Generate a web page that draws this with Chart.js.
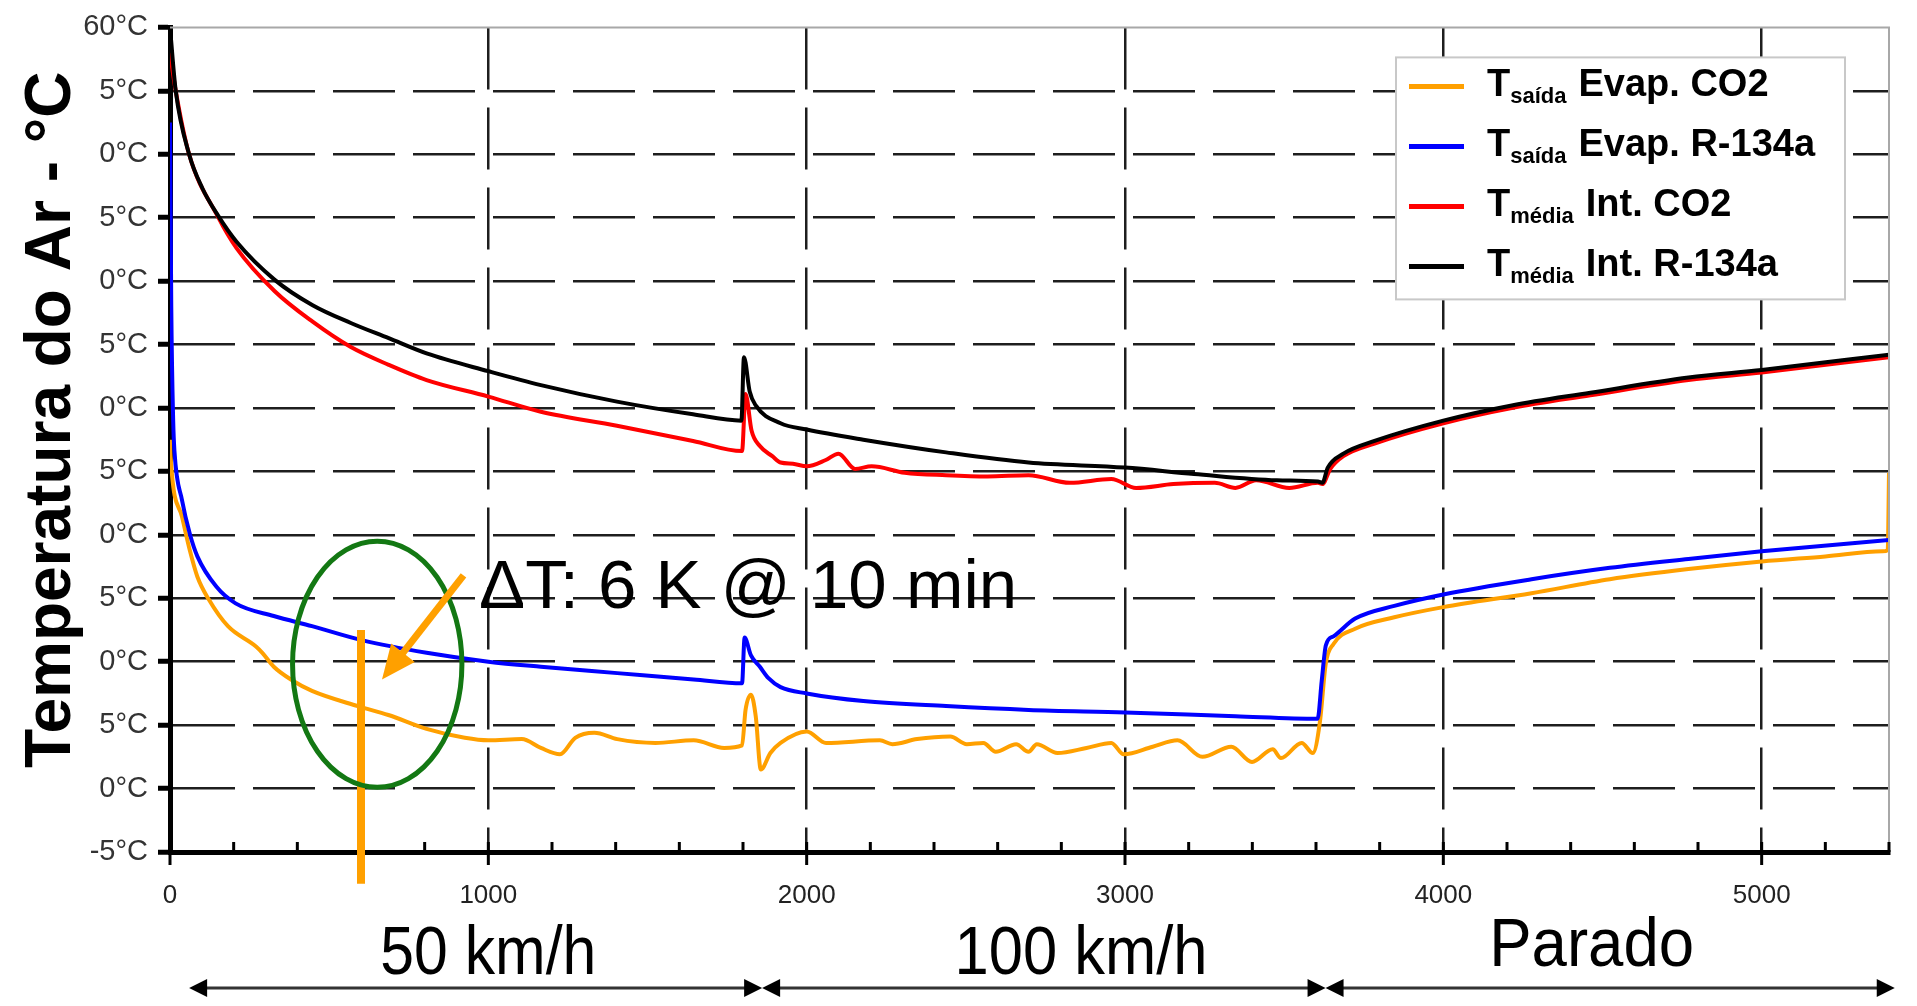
<!DOCTYPE html>
<html>
<head>
<meta charset="utf-8">
<script src="https://cdn.jsdelivr.net/npm/chart.js@4.4.1/dist/chart.umd.min.js"></script>
<style>
  html, body { margin: 0; padding: 0; background: #fff; }
</style>
</head>
<body>
<canvas id="chart" width="1917" height="1006"></canvas>
<script>
// tempo (s) x temperatura do ar (°C)
const evapCO2X = [0, 2, 38, 62, 86, 122, 182, 270, 290, 326, 386, 446, 590, 686, 806, 926, 1000, 1105, 1165, 1225, 1273, 1333, 1405, 1525, 1645, 1741, 1797, 1808, 1825, 1840, 1856, 1886, 1918, 2000, 2061, 2230, 2269, 2347, 2451, 2503, 2555, 2594, 2658, 2697, 2723, 2788, 2879, 2957, 2996, 3087, 3165, 3243, 3334, 3399, 3464, 3490, 3555, 3590, 3612, 3631, 3655, 3723, 3846, 4000, 4277, 4523, 4770, 5000, 5200, 5380, 5396, 5400];
const evapCO2Y = [27.5, 26.1, 21.4, 18.8, 16.7, 14.9, 12.8, 11.2, 10.7, 9.6, 8.5, 7.7, 6.5, 5.8, 4.7, 4.0, 3.8, 3.9, 3.2, 2.7, 4.0, 4.4, 3.9, 3.6, 3.8, 3.2, 3.4, 6.2, 7.4, 5.7, 1.5, 2.8, 3.6, 4.5, 3.6, 3.8, 3.5, 3.9, 4.1, 3.5, 3.6, 2.9, 3.5, 2.9, 3.5, 2.8, 3.2, 3.6, 2.7, 3.3, 3.8, 2.5, 3.3, 2.1, 3.1, 2.4, 3.6, 2.8, 5.2, 9.9, 11.4, 12.6, 13.5, 14.3, 15.4, 16.5, 17.3, 17.9, 18.3, 18.7, 18.8, 24.9];

const evapR134aX = [0, 4, 10, 14, 38, 62, 86, 146, 206, 326, 446, 602, 806, 1000, 1165, 1405, 1645, 1797, 1805, 1825, 1853, 1880, 1918, 2000, 2178, 2438, 2697, 3000, 3347, 3605, 3618, 3631, 3655, 3723, 3846, 4000, 4277, 4523, 4770, 5000, 5400];
const evapR134aY = [52.5, 38, 29, 26.6, 22.7, 20.1, 18.3, 15.9, 14.6, 13.6, 12.8, 11.7, 10.7, 10.0, 9.6, 9.1, 8.6, 8.3, 11.9, 10.5, 9.6, 8.7, 8.0, 7.5, 6.9, 6.5, 6.2, 6.0, 5.7, 5.5, 8.5, 11.3, 12.0, 13.4, 14.4, 15.3, 16.5, 17.4, 18.1, 18.7, 19.6];

const intCO2X = [0, 18, 60, 150, 209, 329, 448, 568, 687, 806, 1000, 1165, 1404, 1643, 1797, 1808, 1827, 1853, 1892, 1918, 1957, 2000, 2060, 2100, 2152, 2204, 2308, 2438, 2568, 2697, 2827, 2957, 3035, 3152, 3282, 3347, 3412, 3516, 3606, 3620, 3645, 3686, 3784, 4000, 4215, 4462, 4770, 5000, 5400];
const intCO2Y = [58, 55, 50, 45.1, 42.6, 39.2, 36.8, 34.8, 33.4, 32.2, 30.9, 29.7, 28.6, 27.4, 26.6, 31.1, 28.2, 27.0, 26.2, 25.7, 25.6, 25.4, 25.9, 26.4, 25.2, 25.4, 24.9, 24.7, 24.6, 24.7, 24.1, 24.4, 23.7, 24.0, 24.1, 23.7, 24.3, 23.7, 24.1, 24.0, 25.2, 26.2, 27.2, 28.8, 30.0, 31.0, 32.2, 32.8, 34.0];

const intR134aX = [0, 18, 60, 102, 150, 209, 329, 448, 568, 687, 806, 1000, 1165, 1404, 1643, 1795, 1803, 1821, 1840, 1918, 2000, 2178, 2438, 2697, 3000, 3217, 3477, 3606, 3620, 3637, 3686, 3784, 4000, 4215, 4462, 4770, 5000, 5400];
const intR134aY = [60, 55, 50, 47.3, 45.2, 43.1, 40.1, 38.1, 36.7, 35.5, 34.3, 32.9, 31.8, 30.5, 29.5, 29.0, 34.0, 31.3, 30.2, 28.8, 28.3, 27.5, 26.5, 25.7, 25.3, 24.8, 24.3, 24.2, 24.1, 25.3, 26.4, 27.4, 29.0, 30.2, 31.2, 32.4, 33.0, 34.2];

const legendSub = ['saída', 'saída', 'média', 'média'];
const legendMain = ['Evap. CO2', 'Evap. R-134a', 'Int. CO2', 'Int. R-134a'];

// rótulos como aparecem (recortados) na figura original
const yTickLabels = ['-5°C', '0°C', '5°C', '0°C', '5°C', '0°C', '5°C', '0°C', '5°C', '0°C', '5°C', '0°C', '5°C', '60°C'];
const xMajorTicks = [0, 1000, 2000, 3000, 4000, 5000];
const xTickLabels = ['0', '1000', '2000', '3000', '4000', '5000'];
const yTitle = 'Temperatura do Ar - °C';

const speedLabels = ['50 km/h', '100 km/h', 'Parado'];
const speedLabelAt = [1000, 2862, 4466];
const speedBounds = [60, 1860, 3630, 5418];

const ORANGE = '#FFA000';

function series(xs, ys) {
  return xs.map((v, i) => ({ x: v, y: ys[i] }));
}

function arrowHead(ctx, x0, y0, x1, y1, len, half) {
  const a = Math.atan2(y1 - y0, x1 - x0);
  ctx.beginPath();
  ctx.moveTo(x1, y1);
  ctx.lineTo(x1 - len * Math.cos(a) + half * Math.sin(a), y1 - len * Math.sin(a) - half * Math.cos(a));
  ctx.lineTo(x1 - len * Math.cos(a) - half * Math.sin(a), y1 - len * Math.sin(a) + half * Math.cos(a));
  ctx.closePath();
  ctx.fill();
}

const overlay = {
  id: 'overlay',
  afterDraw(chart) {
    const { ctx, chartArea: area, scales: { x, y } } = chart;
    ctx.save();

    // moldura cinza fina em cima e à direita
    ctx.strokeStyle = '#a8a8a8';
    ctx.lineWidth = 2;
    ctx.beginPath();
    ctx.moveTo(area.left, area.top);
    ctx.lineTo(area.right, area.top);
    ctx.lineTo(area.right, area.bottom);
    ctx.stroke();

    // ticks do eixo x: menores para dentro, maiores cruzando
    ctx.strokeStyle = '#000';
    ctx.lineWidth = 3;
    x.ticks.forEach(t => {
      const px = x.getPixelForValue(t.value);
      const major = t.value % 1000 === 0;
      ctx.beginPath();
      ctx.moveTo(px, area.bottom - 10);
      ctx.lineTo(px, area.bottom + (major ? 13 : 0));
      ctx.stroke();
    });

    // título do eixo y
    ctx.save();
    ctx.translate(52, (area.top + area.bottom) / 2 - 20);
    ctx.rotate(-Math.PI / 2);
    ctx.fillStyle = '#000';
    ctx.font = 'bold 64px "Liberation Sans", Arial, sans-serif';
    ctx.textAlign = 'center';
    ctx.textBaseline = 'middle';
    ctx.fillText(yTitle, 0, 0);
    ctx.restore();

    // marca dos 10 min
    const p600 = x.getPixelForValue(600);
    ctx.strokeStyle = ORANGE;
    ctx.lineWidth = 8;
    ctx.beginPath();
    ctx.moveTo(p600, y.getPixelForValue(12.5));
    ctx.lineTo(p600, y.getPixelForValue(-7.5));
    ctx.stroke();

    // elipse verde
    const cx = x.getPixelForValue(651), cy = y.getPixelForValue(9.8);
    const rx = x.getPixelForValue(651 + 266) - cx;
    const ry = cy - y.getPixelForValue(9.8 + 9.7);
    ctx.strokeStyle = '#137813';
    ctx.lineWidth = 5;
    ctx.beginPath();
    ctx.ellipse(cx, cy, rx, ry, 0, 0, Math.PI * 2);
    ctx.stroke();

    // seta laranja
    const ax0 = x.getPixelForValue(922), ay0 = y.getPixelForValue(16.8);
    const ax1 = x.getPixelForValue(666), ay1 = y.getPixelForValue(8.6);
    const ang = Math.atan2(ay1 - ay0, ax1 - ax0);
    ctx.strokeStyle = ORANGE;
    ctx.fillStyle = ORANGE;
    ctx.lineWidth = 7;
    ctx.beginPath();
    ctx.moveTo(ax0, ay0);
    ctx.lineTo(ax1 - 25 * Math.cos(ang), ay1 - 25 * Math.sin(ang));
    ctx.stroke();
    arrowHead(ctx, ax0, ay0, ax1, ay1, 34, 15);

    // texto da anotação
    ctx.fillStyle = '#000';
    ctx.font = '69px "Liberation Sans", Arial, sans-serif';
    ctx.textAlign = 'left';
    ctx.textBaseline = 'alphabetic';
    ctx.fillText('ΔT: 6 K @ 10 min', x.getPixelForValue(971), y.getPixelForValue(14.2));

    // faixas de velocidade abaixo do eixo
    ctx.font = '68px "Liberation Sans", Arial, sans-serif';
    const widths = [216, 253, 205];
    const bases = [122, 122, 114];
    ctx.textAlign = 'center';
    speedLabels.forEach((s, i) => {
      ctx.fillText(s, x.getPixelForValue(speedLabelAt[i]), area.bottom + bases[i], widths[i]);
    });
    const ay = area.bottom + 136;
    ctx.strokeStyle = '#333';
    ctx.fillStyle = '#000';
    ctx.lineWidth = 3;
    for (let i = 0; i < speedBounds.length - 1; i++) {
      const a = x.getPixelForValue(speedBounds[i]);
      const b = x.getPixelForValue(speedBounds[i + 1]);
      ctx.beginPath();
      ctx.moveTo(a + 6, ay);
      ctx.lineTo(b - 6, ay);
      ctx.stroke();
      arrowHead(ctx, b, ay, a, ay, 18, 9);
      arrowHead(ctx, a, ay, b, ay, 18, 9);
    }

    // legenda com subscritos
    const lx = area.right - 493, ly = area.top + 30;
    ctx.fillStyle = '#fff';
    ctx.fillRect(lx, ly, 449, 242);
    ctx.strokeStyle = '#c8c8c8';
    ctx.lineWidth = 2;
    ctx.strokeRect(lx, ly, 449, 242);
    ctx.textAlign = 'left';
    chart.data.datasets.forEach((ds, i) => {
      const yc = ly + 29 + i * 60;
      ctx.strokeStyle = ds.borderColor;
      ctx.lineWidth = 5;
      ctx.beginPath();
      ctx.moveTo(lx + 13, yc);
      ctx.lineTo(lx + 68, yc);
      ctx.stroke();
      ctx.fillStyle = '#000';
      ctx.font = 'bold 38px "Liberation Sans", Arial, sans-serif';
      let tx = lx + 91;
      ctx.fillText('T', tx, yc + 10);
      tx += ctx.measureText('T').width;
      ctx.font = 'bold 22px "Liberation Sans", Arial, sans-serif';
      ctx.fillText(legendSub[i], tx, yc + 17);
      tx += ctx.measureText(legendSub[i]).width + 12;
      ctx.font = 'bold 38px "Liberation Sans", Arial, sans-serif';
      ctx.fillText(legendMain[i], tx, yc + 10);
    });

    ctx.restore();
  }
};

Chart.defaults.font.family = '"Liberation Sans", Arial, sans-serif';

new Chart(document.getElementById('chart'), {
  type: 'line',
  data: {
    datasets: [
      { label: 'Tsaída Evap. CO2', data: series(evapCO2X, evapCO2Y), borderColor: ORANGE, order: 4 },
      { label: 'Tsaída Evap. R-134a', data: series(evapR134aX, evapR134aY), borderColor: '#0000FF', order: 3 },
      { label: 'Tmédia Int. CO2', data: series(intCO2X, intCO2Y), borderColor: '#FF0000', order: 2 },
      { label: 'Tmédia Int. R-134a', data: series(intR134aX, intR134aY), borderColor: '#000000', order: 1 }
    ]
  },
  options: {
    responsive: false,
    animation: false,
    layout: { padding: { top: 24, right: 22, bottom: 0, left: 0 } },
    elements: {
      point: { radius: 0 },
      line: { borderWidth: 4, cubicInterpolationMode: 'monotone', fill: false }
    },
    plugins: { legend: { display: false }, tooltip: { enabled: false } },
    scales: {
      x: {
        type: 'linear',
        min: 0,
        max: 5400,
        afterFit: s => { s.height = 154; },
        ticks: {
          stepSize: 200,
          autoSkip: false,
          maxRotation: 0,
          padding: 28,
          color: '#222',
          font: { size: 26 },
          callback: v => {
            const k = xMajorTicks.indexOf(v);
            return k >= 0 ? xTickLabels[k] : '';
          }
        },
        grid: {
          drawTicks: false,
          lineWidth: 2.5,
          color: c => (c.tick && c.tick.value > 0 && c.tick.value % 1000 === 0) ? '#1e1e1e' : 'transparent'
        },
        border: { display: true, color: '#000', width: 5, dash: [62, 18] }
      },
      y: {
        min: -5,
        max: 60,
        afterFit: s => { s.width = 170; },
        ticks: {
          stepSize: 5,
          padding: 10,
          color: '#333',
          font: { size: 29 },
          callback: (v, i) => yTickLabels[i]
        },
        grid: {
          lineWidth: 2.5,
          color: c => (c.tick && c.tick.value === 60) ? 'transparent' : '#1e1e1e',
          tickLength: 12,
          tickWidth: 5,
          tickColor: '#000',
          tickBorderDash: []
        },
        border: { display: true, color: '#000', width: 5, dash: [62, 18] }
      }
    }
  },
  plugins: [overlay]
});
</script>
</body>
</html>
